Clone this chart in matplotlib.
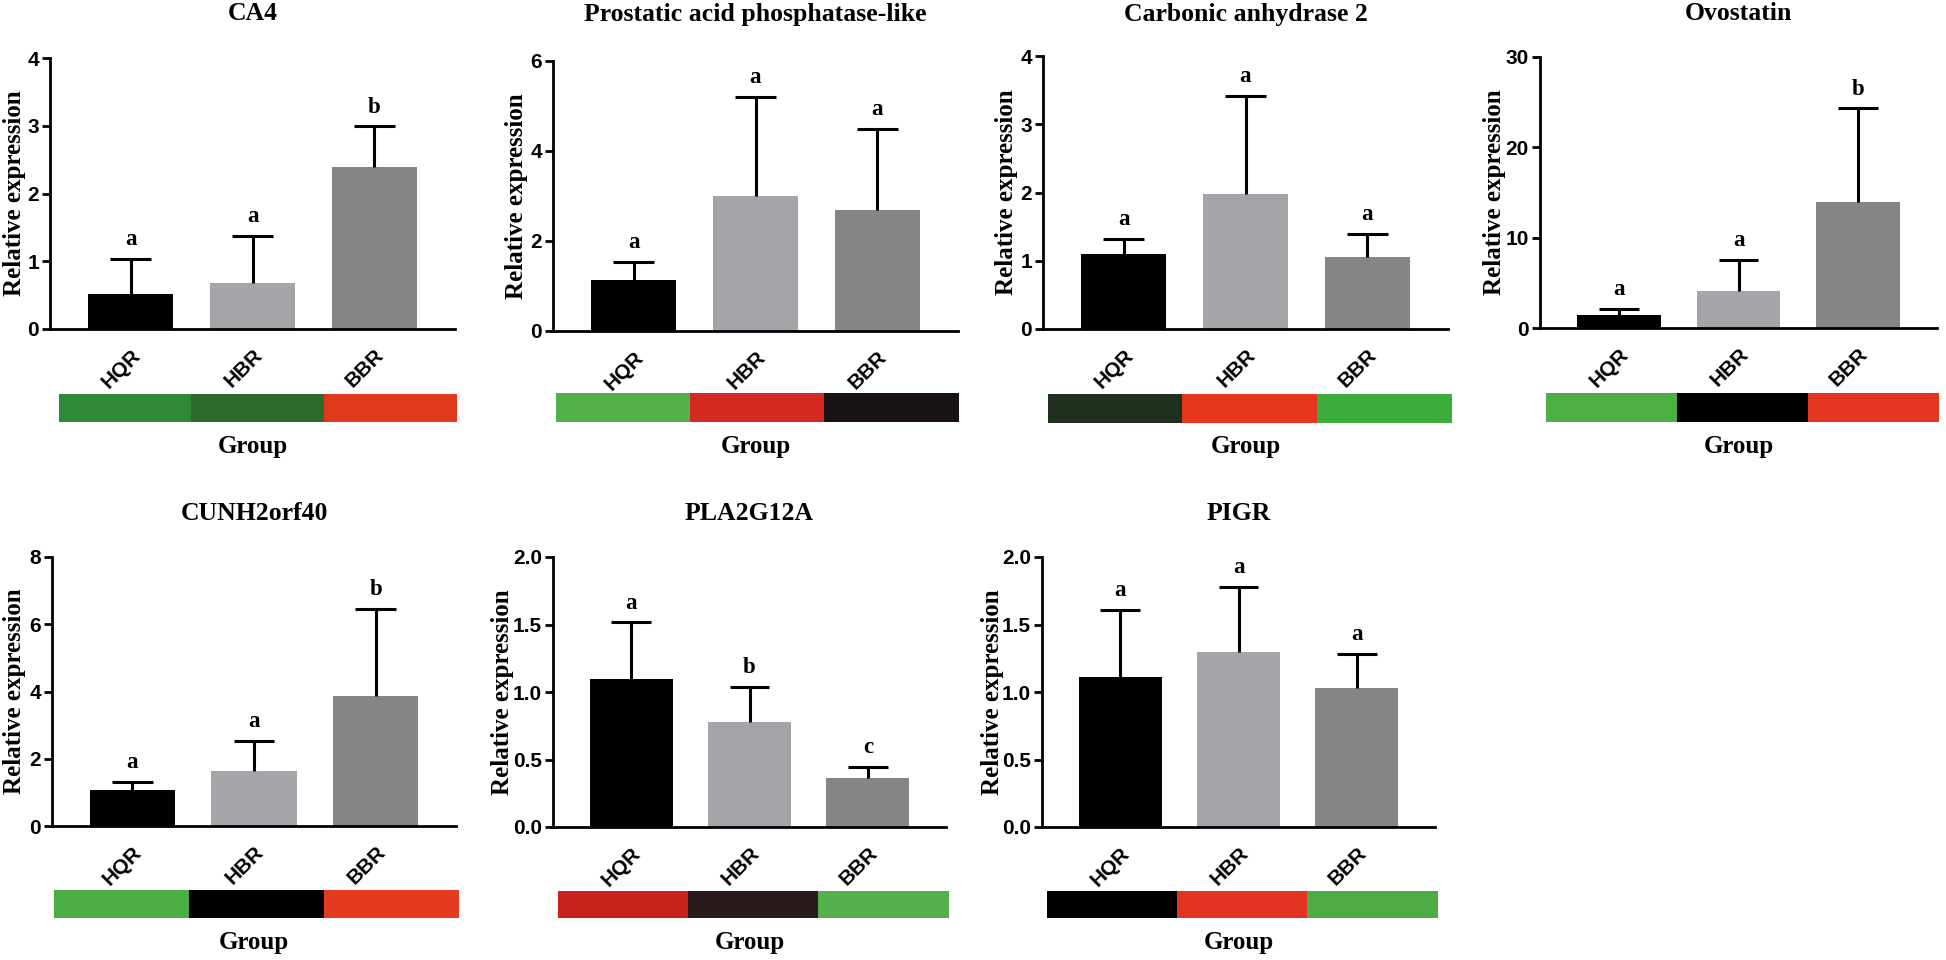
import numpy as np
import matplotlib
matplotlib.use("Agg")
import matplotlib.pyplot as plt
import matplotlib.transforms as mtransforms

# groups and bar colours
groups = ["HQR", "HBR", "BBR"]
bar_colors = ["#000000", "#a5a5a9", "#858585"]

# mean relative expression and upper SD
ca4_mean = [0.51, 0.68, 2.39]
ca4_sd = [0.52, 0.70, 0.60]
pap_mean = [1.14, 3.00, 2.68]
pap_sd = [0.40, 2.20, 1.82]
ca2_mean = [1.10, 1.98, 1.06]
ca2_sd = [0.22, 1.43, 0.33]
ovo_mean = [1.48, 4.13, 13.95]
ovo_sd = [0.66, 3.43, 10.35]
cunh_mean = [1.07, 1.65, 3.87]
cunh_sd = [0.23, 0.89, 2.59]
pla_mean = [1.10, 0.775, 0.366]
pla_sd = [0.415, 0.265, 0.082]
pigr_mean = [1.11, 1.30, 1.03]
pigr_sd = [0.50, 0.475, 0.255]

# significance letters
ca4_sig = ["a", "a", "b"]
pap_sig = ["a", "a", "a"]
ca2_sig = ["a", "a", "a"]
ovo_sig = ["a", "a", "b"]
cunh_sig = ["a", "a", "b"]
pla_sig = ["a", "b", "c"]
pigr_sig = ["a", "a", "a"]

# heatmap strip colours under each panel
ca4_heat = ["#2f8a36", "#2c6b2b", "#e23a1e"]
pap_heat = ["#52b04a", "#d42822", "#1a1313"]
ca2_heat = ["#1f301f", "#e8361e", "#3cad3c"]
ovo_heat = ["#4cb044", "#000000", "#e33520"]
cunh_heat = ["#4cae44", "#000000", "#e43a20"]
pla_heat = ["#c8221e", "#2a1a1a", "#54b04c"]
pigr_heat = ["#000000", "#e23420", "#4eac46"]

titles = ["CA4", "Prostatic acid phosphatase-like", "Carbonic anhydrase 2",
          "Ovostatin", "CUNH2orf40", "PLA2G12A", "PIGR"]
y_max = [4, 6, 4, 30, 8, 2.0, 2.0]
y_step = [1, 2, 1, 10, 2, 0.5, 0.5]

panels = [
    (ca4_mean, ca4_sd, ca4_sig, ca4_heat),
    (pap_mean, pap_sd, pap_sig, pap_heat),
    (ca2_mean, ca2_sd, ca2_sig, ca2_heat),
    (ovo_mean, ovo_sd, ovo_sig, ovo_heat),
    (cunh_mean, cunh_sd, cunh_sig, cunh_heat),
    (pla_mean, pla_sd, pla_sig, pla_heat),
    (pigr_mean, pigr_sd, pigr_sig, pigr_heat),
]

# pixel boxes: axis left, right, top, zero line; strip left, right, top, bottom
boxes = [
    (50, 455, 58, 329, 59, 457, 394, 422),
    (553, 958, 61, 331, 556, 959, 393, 422),
    (1043, 1448, 56, 329, 1048, 1451, 394, 423),
    (1540, 1937, 57, 328, 1546, 1939, 393, 422),
    (52, 456, 557, 826, 54, 459, 890, 918),
    (553, 946, 557, 827, 558, 949, 891, 918),
    (1042, 1435, 557, 827, 1047, 1438, 891, 918),
]
ylab_x = [15, 517, 1007, 1495, 15, 502, 992]
title_y = [14, 14, 14, 14, 513, 513, 513]

W, H = 1946, 960
fig = plt.figure(figsize=(W / 100, H / 100), dpi=100)

serif = "Liberation Serif"
sans = "Liberation Sans"

for i, (mean, sd, sig, heat) in enumerate(panels):
    l, r, t, b, sl, sr, st, sb = boxes[i]
    ax = fig.add_axes([l / W, 1 - b / H, (r - l) / W, (b - t) / H])
    x = np.arange(len(groups))
    top = np.array(mean) + np.array(sd)
    ax.bar(x, mean, width=0.7, color=bar_colors, edgecolor="none", zorder=2)
    # upper error bar only
    ax.vlines(x, mean, top, color="black", lw=2.2, zorder=3)
    ax.hlines(top, x - 0.167, x + 0.167, color="black", lw=2.2, zorder=3)
    for xi, tp, lab in zip(x, top, sig):
        ax.annotate(lab, (xi, tp), xytext=(0, 10), textcoords="offset points",
                    ha="center", va="baseline", fontsize=16.5,
                    fontfamily=serif, fontweight="bold")
    ax.set_xlim(-0.66, 2.66)
    ax.set_ylim(0, y_max[i])
    ticks = np.arange(0, y_max[i] + y_step[i] / 2, y_step[i])
    ax.set_yticks(ticks)
    if y_step[i] < 1:
        ax.set_yticklabels([f"{v:.1f}" for v in ticks])
    else:
        ax.set_yticklabels([f"{v:g}" for v in ticks])
    ax.set_xticks(x)
    ax.set_xticklabels(groups, rotation=45, ha="right", rotation_mode="anchor")
    off = mtransforms.ScaledTranslation(8 / 100, 0, fig.dpi_scale_trans)
    for tl in ax.get_xticklabels():
        tl.set_transform(tl.get_transform() + off)
        tl.set_fontfamily(sans)
        tl.set_fontweight("bold")
        tl.set_fontsize(15)
    for tl in ax.get_yticklabels():
        tl.set_fontfamily(sans)
        tl.set_fontweight("bold")
        tl.set_fontsize(15)
    ax.tick_params(axis="x", length=0, pad=12)
    ax.tick_params(axis="y", length=6, width=2, pad=2)
    for s in ["top", "right"]:
        ax.spines[s].set_visible(False)
    for s in ["left", "bottom"]:
        ax.spines[s].set_linewidth(2)
    ax.set_ylabel("Relative expression", fontfamily=serif, fontweight="bold",
                  fontsize=18, va="center")
    ax.yaxis.set_label_coords((ylab_x[i] - l) / (r - l), 0.5)

    fig.text((l + r) / 2 / W, 1 - title_y[i] / H, titles[i], ha="center",
             va="center", fontfamily=serif, fontweight="bold", fontsize=18.5)

    # heatmap strip
    sax = fig.add_axes([sl / W, 1 - sb / H, (sr - sl) / W, (sb - st) / H])
    rgb = np.array([[matplotlib.colors.to_rgb(c) for c in heat]])
    sax.imshow(rgb, aspect="auto", interpolation="nearest")
    sax.set_axis_off()
    fig.text((l + r) / 2 / W, 1 - (sb + 24) / H, "Group", ha="center", va="center",
             fontfamily=serif, fontweight="bold", fontsize=18)

fig.savefig("out.png", dpi=100)
